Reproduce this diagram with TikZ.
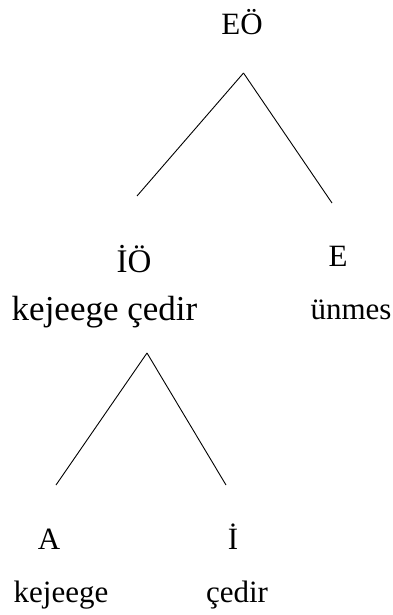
\documentclass[tikz,border=0pt]{standalone}
\usepackage{fontspec}
\setmainfont{Liberation Serif}
\begin{document}
\begin{tikzpicture}[x=1pt,y=1pt,
  lbl/.style={anchor=base,inner sep=0pt,font=\fontsize{31}{37}\selectfont},
  big/.style={lbl,font=\fontsize{35}{42}\selectfont},
  edge/.style={line width=0.9pt}]
\useasboundingbox (0,0) rectangle (393,-615);
\node[lbl] (eo) at (242,-35) {EÖ};
\node[lbl,font=\fontsize{33}{40}\selectfont] (io) at (134,-272) {İÖ};
\node[lbl] (e) at (338,-266) {E};
\node[big] (kc) at (104.5,-320) {kejeege çedir};
\node[lbl] (un) at (351,-319) {ünmes};
\node[lbl] (a) at (49,-549) {A};
\node[lbl] (i) at (233,-549) {İ};
\node[lbl] (k) at (61,-602) {kejeege};
\node[lbl] (c) at (237,-602) {çedir};
\coordinate (t1) at (243.5,-73);
\coordinate (l1) at (137,-196);
\coordinate (r1) at (332,-203);
\coordinate (t2) at (147,-353);
\coordinate (l2) at (56,-485);
\coordinate (r2) at (226,-485);
\draw[edge] (t1) -- (l1);
\draw[edge] (t1) -- (r1);
\draw[edge] (t2) -- (l2);
\draw[edge] (t2) -- (r2);
\end{tikzpicture}
\end{document}
